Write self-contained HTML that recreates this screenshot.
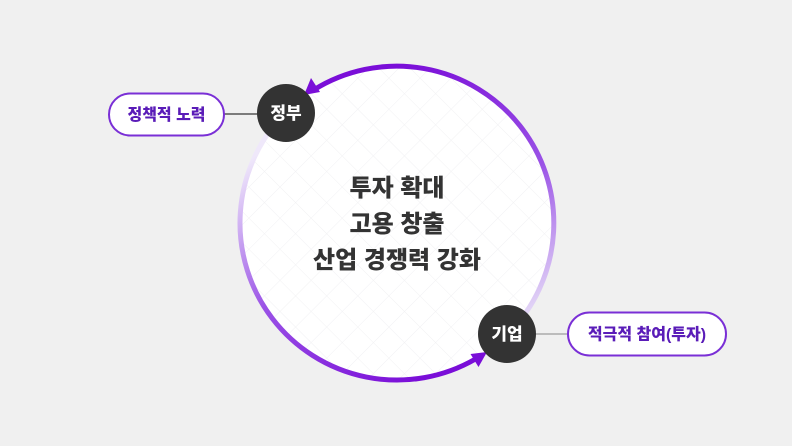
<!DOCTYPE html>
<html><head><meta charset="utf-8"><style>
html,body{margin:0;padding:0;background:#f0f0f0;}
body{width:792px;height:446px;overflow:hidden;font-family:"Liberation Sans","Noto Sans CJK KR",sans-serif;}
</style></head><body>
<svg width="792" height="446" viewBox="0 0 792 446" xmlns="http://www.w3.org/2000/svg" style="display:block">
<defs>
<linearGradient id="g1" gradientUnits="userSpaceOnUse" x1="545" y1="310" x2="400" y2="66">
<stop offset="0" stop-color="#e6dcf7"/><stop offset="0.45" stop-color="#9a52e6"/><stop offset="1" stop-color="#7a0ed8"/></linearGradient>
<linearGradient id="g2" gradientUnits="userSpaceOnUse" x1="250" y1="160" x2="420" y2="380">
<stop offset="0" stop-color="#efe8fa"/><stop offset="0.45" stop-color="#9a52e6"/><stop offset="1" stop-color="#7a0ed8"/></linearGradient>
<pattern id="grid" width="22" height="22" patternUnits="userSpaceOnUse" patternTransform="rotate(45)">
<path d="M0 0H22M0 0V22" stroke="#f1f1f3" stroke-width="1" fill="none"/></pattern>
</defs>
<circle cx="397" cy="223" r="157" fill="#fff"/>
<circle cx="397" cy="223" r="155" fill="url(#grid)"/>
<path d="M508 334 A157 157 0 0 0 313.8 89.9" fill="none" stroke="url(#g1)" stroke-width="5"/>
<path d="M286 112 A157 157 0 0 0 475.5 359" fill="none" stroke="url(#g2)" stroke-width="5"/>
<polygon points="304,95 311,78 320,92" fill="#7a0ed8"/>
<polygon points="487,352 478.5,367 470.5,354" fill="#7a0ed8"/>
<line x1="224" y1="114" x2="260" y2="114" stroke="#555" stroke-width="1.5"/>
<line x1="534" y1="334" x2="568" y2="334" stroke="#aaa" stroke-width="1.5"/>
<rect x="109" y="93.5" width="115" height="42" rx="21" fill="#fff" stroke="#7a2fd6" stroke-width="2"/>
<rect x="568" y="312.5" width="158" height="43" rx="21.5" fill="#fff" stroke="#7a2fd6" stroke-width="2"/>
<text x="166.5" y="120" text-anchor="middle" font-size="16" font-weight="900" fill="#5a1cb8">정책적 노력</text>
<text x="647" y="339.5" text-anchor="middle" font-size="16" font-weight="900" fill="#5a1cb8">적극적 참여(투자)</text>
<circle cx="286" cy="113" r="29" fill="#333"/>
<circle cx="507" cy="334" r="29" fill="#333"/>
<text x="286" y="119" text-anchor="middle" font-size="17" font-weight="900" fill="#fff">정부</text>
<text x="507" y="340" text-anchor="middle" font-size="17" font-weight="900" fill="#fff">기업</text>
<g font-size="24" font-weight="900" fill="#333" text-anchor="middle">
<text x="397" y="196">투자 확대</text>
<text x="397" y="232">고용 창출</text>
<text x="397" y="268">산업 경쟁력 강화</text>
</g>
</svg>
</body></html>
